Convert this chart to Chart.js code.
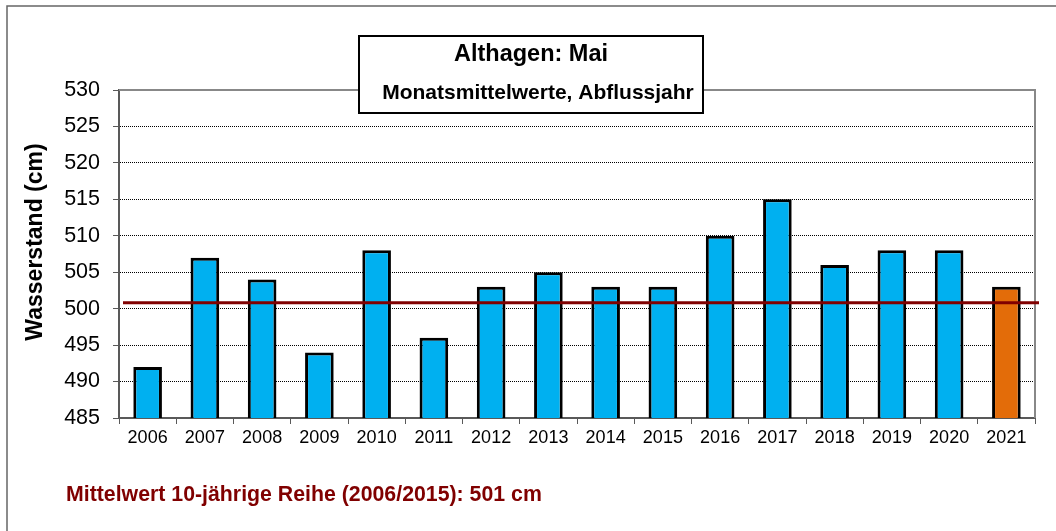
<!DOCTYPE html>
<html lang="de">
<head>
    <meta charset="UTF-8">
    <title>Althagen: Mai</title>
    <script src="https://cdn.jsdelivr.net/npm/chart.js"></script>
    <style>
        body {
            margin: 0;
            background: #fff;
        }
        #chart {
            display: block;
        }
    </style>
</head>
<body>
    <canvas id="chart" width="1056" height="531"></canvas>

    <script>
        // Werte
        const years = ['2006', '2007', '2008', '2009', '2010', '2011', '2012', '2013',
                       '2014', '2015', '2016', '2017', '2018', '2019', '2020', '2021'];
        const wasserstand = [492, 507, 504, 494, 508, 496, 503, 505,
                             503, 503, 510, 515, 506, 508, 508, 503];
        const mittelwert = 500.8;
        const currentYear = '2021';

        const titel = 'Althagen: Mai';
        const untertitel = 'Monatsmittelwerte, Abflussjahr';
        const achsenTitel = 'Wasserstand (cm)';
        const fussnote = 'Mittelwert 10-jährige Reihe (2006/2015): 501 cm';

        const FONT = "'Liberation Sans', Arial, sans-serif";
        const BLUE = '#00B0F0';
        const ORANGE = '#E36C09';
        const DARKRED = '#800000';

        const barColors = years.map(y => y === currentYear ? ORANGE : BLUE);

        // Rahmen, Titelbox, Mittelwertlinie, Achsentitel und Fussnote
        const decor = {
            id: 'decor',
            beforeDraw(chart) {
                const ctx = chart.ctx;
                ctx.save();
                // äusserer Rahmen
                ctx.strokeStyle = '#666';
                ctx.lineWidth = 1.5;
                ctx.beginPath();
                ctx.moveTo(7, 531);
                ctx.lineTo(7, 6);
                ctx.lineTo(1056, 6);
                ctx.stroke();
                ctx.restore();
            },
            afterDatasetsDraw(chart) {
                const ctx = chart.ctx;
                const a = chart.chartArea;
                const y = chart.scales.y.getPixelForValue(mittelwert);
                ctx.save();
                // oberer und rechter Rand der Zeichenfläche
                ctx.strokeStyle = '#888';
                ctx.lineWidth = 2;
                ctx.beginPath();
                ctx.moveTo(a.left, a.top);
                ctx.lineTo(a.right, a.top);
                ctx.lineTo(a.right, a.bottom);
                ctx.stroke();
                // Mittelwert
                ctx.strokeStyle = DARKRED;
                ctx.lineWidth = 3;
                ctx.beginPath();
                ctx.moveTo(a.left + 4, y);
                ctx.lineTo(a.right + 4, y);
                ctx.stroke();
                ctx.restore();
            },
            afterDraw(chart) {
                const ctx = chart.ctx;
                ctx.save();
                // Titelbox
                ctx.fillStyle = '#fff';
                ctx.fillRect(359, 36, 344, 77);
                ctx.strokeStyle = '#000';
                ctx.lineWidth = 2;
                ctx.strokeRect(359, 36, 344, 77);
                ctx.fillStyle = '#000';
                ctx.textAlign = 'center';
                ctx.textBaseline = 'middle';
                ctx.font = 'bold 23.5px ' + FONT;
                ctx.fillText(titel, 531, 55);
                ctx.font = 'bold 21px ' + FONT;
                ctx.fillText(untertitel, 538, 93);

                // Achsentitel
                ctx.save();
                ctx.translate(36, 242);
                ctx.rotate(-Math.PI / 2);
                ctx.font = 'bold 23px ' + FONT;
                ctx.fillText(achsenTitel, 0, 0);
                ctx.restore();

                // Fussnote
                ctx.textAlign = 'left';
                ctx.fillStyle = DARKRED;
                ctx.font = 'bold 21.3px ' + FONT;
                ctx.fillText(fussnote, 66, 495);
                ctx.restore();
            }
        };

        new Chart(document.getElementById('chart'), {
            type: 'bar',
            data: {
                labels: years,
                datasets: [{
                    data: wasserstand,
                    backgroundColor: barColors,
                    borderColor: '#000',
                    borderWidth: 3,
                    borderSkipped: false,
                    barPercentage: 0.5,
                    categoryPercentage: 1
                }]
            },
            options: {
                responsive: false,
                animation: false,
                layout: {
                    padding: { top: 90, right: 21, left: 0, bottom: 0 }
                },
                plugins: {
                    legend: { display: false },
                    tooltip: { enabled: false }
                },
                scales: {
                    x: {
                        afterFit(scale) { scale.height = 113; },
                        grid: {
                            offset: true,
                            drawOnChartArea: false,
                            tickLength: 6,
                            tickColor: '#595959',
                            tickWidth: 1
                        },
                        border: { display: true, color: '#595959', width: 2 },
                        ticks: {
                            color: '#000',
                            padding: 3,
                            maxRotation: 0,
                            font: { family: FONT, size: 18 }
                        }
                    },
                    y: {
                        min: 485,
                        max: 530,
                        afterFit(scale) { scale.width = 119; },
                        grid: {
                            color: ctx => (ctx.tick && (ctx.tick.value === 485 || ctx.tick.value === 530)) ? 'rgba(0,0,0,0)' : '#000',
                            lineWidth: 1,
                            tickLength: 6,
                            tickColor: '#595959',
                            tickWidth: 1,
                            tickBorderDash: []
                        },
                        border: { display: true, color: '#595959', width: 2, dash: [1, 1] },
                        ticks: {
                            stepSize: 5,
                            color: '#000',
                            padding: 13,
                            font: { family: FONT, size: 21.5 }
                        }
                    }
                }
            },
            plugins: [decor]
        });
    </script>
</body>
</html>
